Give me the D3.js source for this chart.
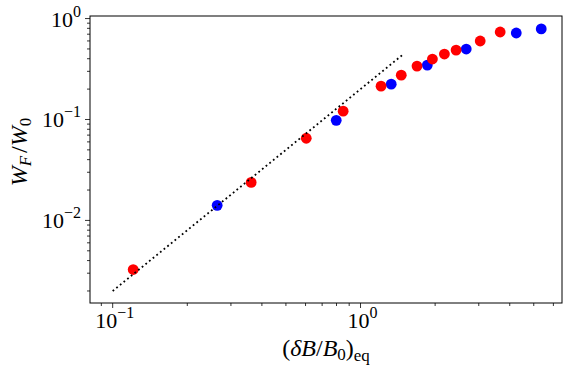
<!DOCTYPE html>
<html>
<head>
<meta charset="utf-8">
<script src="https://cdn.jsdelivr.net/npm/d3@7"></script>
<style>
  body { margin: 0; background: #fff; }
</style>
</head>
<body>
<svg id="chart" width="571" height="372"></svg>
<script>
// data
var redX = [0.121, 0.362, 0.604, 0.851, 1.21, 1.46, 1.69, 1.95, 2.18, 2.43, 3.04, 3.66];
var redY = [0.00326, 0.0238, 0.0652, 0.121, 0.214, 0.275, 0.338, 0.397, 0.445, 0.487, 0.599, 0.736];
var blueX = [0.264, 0.798, 1.33, 1.86, 2.67, 4.25, 5.36];
var blueY = [0.0141, 0.098, 0.224, 0.346, 0.499, 0.719, 0.789];
var fitX = [0.1, 1.5];          // reference line W = 0.2 x^2
var fitCoef = 0.2;
var xMajor = [0.1, 1];
var yMajor = [0.01, 0.1, 1];

var serif = "'Liberation Serif'";
var svg = d3.select("#chart");
var mLeft = 90, mRight = 562, mTop = 16, mBottom = 303;

var x = d3.scaleLog().domain([0.081, 6.5]).range([mLeft, mRight]);
var y = d3.scaleLog().domain([0.00152, 1.06]).range([mBottom, mTop]);

// minor ticks
function minors(dom) {
  var out = [];
  for (var e = -4; e <= 1; e++) {
    for (var m = 2; m <= 9; m++) {
      var v = m * Math.pow(10, e);
      if (v >= dom[0] && v <= dom[1]) out.push(v);
    }
  }
  return out;
}

function txt(sel, size) {
  return sel.append("text").style("font-family", serif).style("font-size", (size || 22) + "px");
}

function expLabel(t, v) {
  t.append("tspan").text("10");
  t.append("tspan").attr("dy", -10).style("font-size", "16px")
    .text(v === 1 ? "0" : "\u2212" + Math.round(-Math.log10(v)));
}

var g = svg.append("g");

// x ticks
minors(x.domain()).forEach(function(v) {
  g.append("line").attr("x1", x(v)).attr("x2", x(v))
    .attr("y1", mBottom).attr("y2", mBottom + 3)
    .attr("stroke", "#000").attr("stroke-width", 0.8);
});
xMajor.forEach(function(v) {
  g.append("line").attr("x1", x(v)).attr("x2", x(v))
    .attr("y1", mBottom).attr("y2", mBottom + 5)
    .attr("stroke", "#000").attr("stroke-width", 0.8);
  var t = txt(g).attr("x", x(v) + 2).attr("y", 328).attr("text-anchor", "middle");
  expLabel(t, v);
});

// y ticks
minors(y.domain()).forEach(function(v) {
  g.append("line").attr("y1", y(v)).attr("y2", y(v))
    .attr("x1", mLeft).attr("x2", mLeft - 3)
    .attr("stroke", "#000").attr("stroke-width", 0.8);
});
yMajor.forEach(function(v) {
  g.append("line").attr("y1", y(v)).attr("y2", y(v))
    .attr("x1", mLeft).attr("x2", mLeft - 5)
    .attr("stroke", "#000").attr("stroke-width", 0.8);
  var t = txt(g).attr("x", 81).attr("y", y(v) + 8).attr("text-anchor", "end");
  expLabel(t, v);
});

// points
svg.append("g").selectAll("circle").data(blueX).join("circle")
  .attr("cx", function(d) { return x(d); })
  .attr("cy", function(d, i) { return y(blueY[i]); })
  .attr("r", 5.4).attr("fill", "#0000ff");

svg.append("g").selectAll("circle").data(redX).join("circle")
  .attr("cx", function(d) { return x(d); })
  .attr("cy", function(d, i) { return y(redY[i]); })
  .attr("r", 5.4).attr("fill", "#ff0000");

// dotted reference line
var line = d3.line()
  .x(function(d) { return x(d); })
  .y(function(d) { return y(fitCoef * d * d); });
svg.append("path").datum(fitX).attr("d", line)
  .attr("fill", "none").attr("stroke", "#000")
  .attr("stroke-width", 1.8).attr("stroke-dasharray", "1.8,2.9");

// frame
svg.append("rect").attr("x", mLeft).attr("y", mTop)
  .attr("width", mRight - mLeft).attr("height", mBottom - mTop)
  .attr("fill", "none").attr("stroke", "#000").attr("stroke-width", 1);

// x label
var xl = txt(svg, 24).attr("x", 326).attr("y", 356).attr("text-anchor", "middle");
xl.append("tspan").text("(");
xl.append("tspan").style("font-style", "italic").text("\u03b4B");
xl.append("tspan").text("/");
xl.append("tspan").style("font-style", "italic").text("B");
xl.append("tspan").attr("dy", 4).style("font-size", "17px").text("0");
xl.append("tspan").attr("dy", -4).text(")");
xl.append("tspan").attr("dy", 5).style("font-size", "17px").text("eq");

// y label
var yl = txt(svg, 24).attr("transform", "translate(27,152) rotate(-90)")
  .attr("text-anchor", "middle");
yl.append("tspan").style("font-style", "italic").text("W");
yl.append("tspan").attr("dy", 4).style("font-size", "17px").style("font-style", "italic").text("F");
yl.append("tspan").attr("dy", -4).attr("dx", 3).text("/");
yl.append("tspan").style("font-style", "italic").text("W");
yl.append("tspan").attr("dy", 4).style("font-size", "17px").text("0");
</script>
</body>
</html>
